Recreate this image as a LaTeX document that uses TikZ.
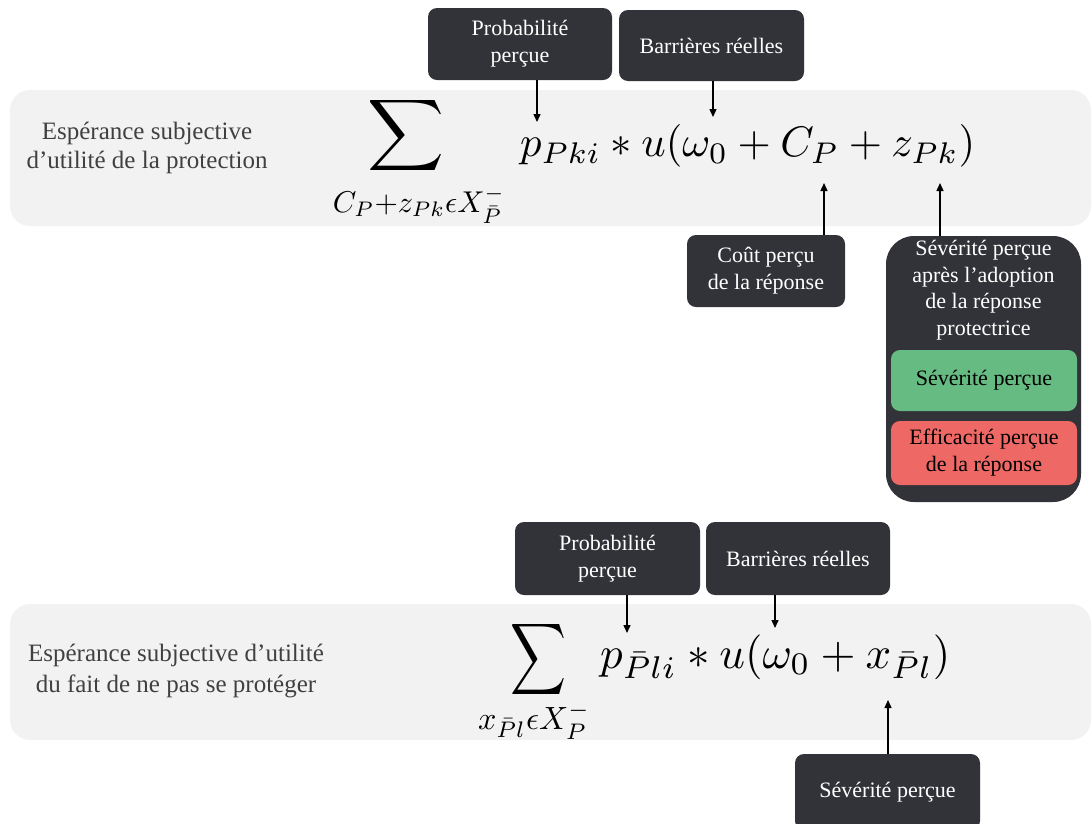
\RequirePackage{fix-cm}
\documentclass[tikz,border=0pt]{standalone}
\usepackage{fontspec}
\setmainfont{Liberation Serif}
\usepackage{graphicx}
\usetikzlibrary{arrows.meta}
\definecolor{darkbox}{HTML}{323338}
\definecolor{bandgray}{HTML}{F2F2F2}
\definecolor{greenbox}{HTML}{66BB82}
\definecolor{redbox}{HTML}{EE6965}
\definecolor{labgray}{HTML}{404040}
\tikzset{
  band/.style={fill=bandgray, draw=none, rounded corners=20pt},
  darkbox/.style={fill=darkbox, draw=none, rounded corners=9pt, text=white, align=center,
    inner sep=0pt, font=\fontsize{22}{27}\selectfont},
  colbox/.style={draw=none, rounded corners=9pt, text=black, align=center,
    inner sep=0pt, font=\fontsize{22}{27}\selectfont},
  lbl/.style={align=center, text=labgray, inner sep=0pt},
  arr/.style={line width=1.4pt, -{Triangle[length=8pt,width=7pt]}},
}
\begin{document}
\begin{tikzpicture}[x=1pt,y=-1pt]
\useasboundingbox (0,0) rectangle (1092,823);
% bands
\fill[band] (10,90) rectangle (1091,226);
\fill[band] (10,604) rectangle (1091,740);
% ---------- top part
\node[lbl, font=\fontsize{25}{29}\selectfont] (lab1) at (147,148) {Espérance subjective\\d’utilité de la protection};
\node[anchor=north, inner sep=0pt] (sum1) at (406,95) {\resizebox*{77pt}{80pt}{$\displaystyle\sum$}};
\node[anchor=north, inner sep=0pt] (sub1) at (419,186) {\resizebox{172pt}{!}{$C_P{+}z_{Pk}\epsilon X_{\bar P}^{-}$}};
\node[anchor=west, inner sep=0pt] (f1) at (520,146) {\resizebox{455pt}{!}{$p_{Pki} * u(\omega_0 + C_P + z_{Pk})$}};
\node[darkbox, minimum width=184pt, minimum height=72pt] (prob1) at (520,44) {Probabilité\\perçue};
\node[darkbox, minimum width=185pt, minimum height=71pt] (barr1) at (711.5,45.5) {Barrières réelles};
\node[darkbox, minimum width=158pt, minimum height=72pt] (cout) at (766,271) {Coût perçu\\de la réponse};
\node[darkbox, minimum width=195pt, minimum height=266pt, rounded corners=28pt] (sev) at (983.5,369) {};
\node[text=white, align=center, inner sep=0pt, font=\fontsize{22}{26.5}\selectfont] (sevtxt) at (983.5,290) {Sévérité perçue\\après l’adoption\\de la réponse\\protectrice};
\node[colbox, fill=greenbox, minimum width=186pt, minimum height=61pt] (sevg) at (984,380.5) {Sévérité perçue};
\node[colbox, fill=redbox, minimum width=186pt, minimum height=64pt] (effr) at (984,453) {Efficacité perçue\\de la réponse};
\coordinate (t1) at (537,122);
\coordinate (t2) at (713,117);
\coordinate (t3) at (824,183);
\coordinate (t4) at (940,183);
\draw[arr] (t1 |- prob1.south) -- (t1);
\draw[arr] (t2 |- barr1.south) -- (t2);
\draw[arr] (t3 |- cout.north) -- (t3);
\draw[arr] (t4 |- sev.north) -- (t4);
% ---------- bottom part
\node[lbl, font=\fontsize{25}{31}\selectfont] (lab2) at (176,671) {Espérance subjective d’utilité\\du fait de ne pas se protéger};
\node[anchor=north, inner sep=0pt] (sum2) at (538,619) {\resizebox*{56pt}{80pt}{$\displaystyle\sum$}};
\node[anchor=north, inner sep=0pt] (sub2) at (534,702) {\resizebox{112pt}{!}{$x_{\bar P l}\epsilon X_{P}^{-}$}};
\node[anchor=west, inner sep=0pt] (f2) at (600,657) {\resizebox{350pt}{!}{$p_{\bar P li} * u(\omega_0 + x_{\bar P l})$}};
\node[darkbox, minimum width=185pt, minimum height=73pt] (prob2) at (607.5,558.5) {Probabilité\\perçue};
\node[darkbox, minimum width=184pt, minimum height=73pt] (barr2) at (798,558.5) {Barrières réelles};
\node[darkbox, minimum width=185pt, minimum height=76pt] (sev2) at (887.5,792) {Sévérité perçue};
\coordinate (b1) at (627,633);
\coordinate (b2) at (775,628);
\coordinate (b3) at (888,700);
\draw[arr] (b1 |- prob2.south) -- (b1);
\draw[arr] (b2 |- barr2.south) -- (b2);
\draw[arr] (b3 |- sev2.north) -- (b3);
\end{tikzpicture}
\end{document}
